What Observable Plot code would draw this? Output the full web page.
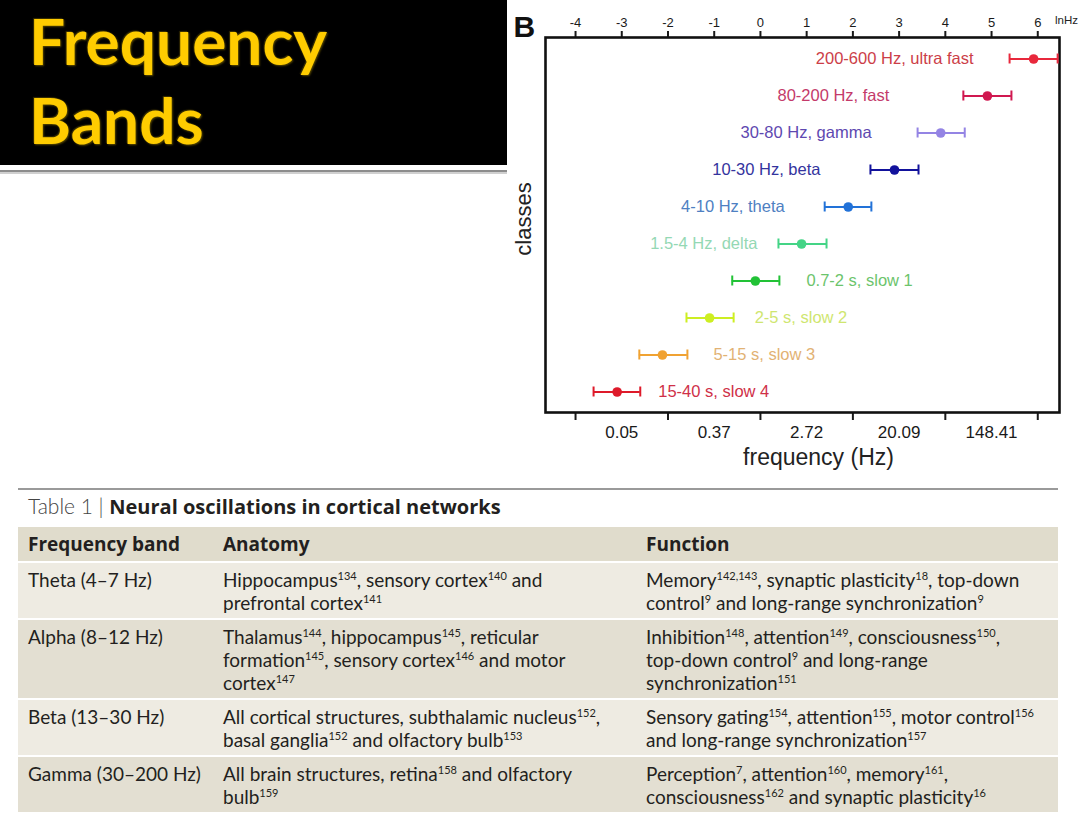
<!DOCTYPE html>
<html><head><meta charset="utf-8">
<script src="https://cdn.jsdelivr.net/npm/d3@7"></script>
<script src="https://cdn.jsdelivr.net/npm/@observablehq/plot@0.6"></script>
<style>
body{margin:0;width:1080px;height:823px;position:relative;background:#fff;overflow:hidden;font-family:Lato,"Open Sans",sans-serif;color:#231f20;}
#title{position:absolute;left:0;top:0;width:507px;height:165px;background:#000;}
#title .t{position:absolute;left:29px;color:#ffcc00;font-weight:bold;font-size:64px;font-family:Lato,"Open Sans",sans-serif;line-height:1;text-shadow:1px 1px 2px #5a4a00,-1px -1px 1px #3a3000;}
#rule1{position:absolute;left:0;top:170px;width:507px;height:2px;background:#8c8c8c;}
#rule2{position:absolute;left:0;top:172px;width:507px;height:2px;background:#d0d0d0;}
#chart{position:absolute;left:505px;top:0;}
#tline{position:absolute;left:18px;top:488px;width:1040px;height:1.5px;background:#9a9a9a;}
#caption{position:absolute;left:28px;top:493px;line-height:26px;white-space:nowrap;}
#caption .l{font-weight:300;color:#444;font-size:21px;}
#caption b{font-weight:bold;font-family:"Open Sans",sans-serif;font-size:20px;}
table{position:absolute;left:18px;top:525px;width:1040px;border-collapse:separate;border-spacing:0 2px;font-size:19px;}
td,th{text-align:left;vertical-align:top;padding:5px 8px 4px 10px;line-height:23px;white-space:nowrap;}
th{font-weight:bold;font-family:"Open Sans",sans-serif;padding:6px 8px 5px 10px;background:#e0dccc;font-size:19px;}
tr.a td{background:#eeebe2;}
tr.b td{background:#e3dfd2;}
sup{font-size:11px;vertical-align:7px;line-height:0;}
</style></head>
<body>
<div id="title"><div class="t" style="top:9px">Frequency</div><div class="t" style="top:88px">Bands</div></div>
<div id="rule1"></div><div id="rule2"></div>
<div id="chart"></div>
<div id="tline"></div>
<div id="caption"><span class="l">Table 1 | </span><b>Neural oscillations in cortical networks</b></div>
<table>
<colgroup><col style="width:195px"><col style="width:423px"><col style="width:422px"></colgroup>
<tr><th>Frequency band</th><th>Anatomy</th><th>Function</th></tr>
<tr class="a"><td>Theta (4–7 Hz)</td><td>Hippocampus<sup>134</sup>, sensory cortex<sup>140</sup> and<br>prefrontal cortex<sup>141</sup></td><td>Memory<sup>142,143</sup>, synaptic plasticity<sup>18</sup>, top-down<br>control<sup>9</sup> and long-range synchronization<sup>9</sup></td></tr>
<tr class="b"><td>Alpha (8–12 Hz)</td><td>Thalamus<sup>144</sup>, hippocampus<sup>145</sup>, reticular<br>formation<sup>145</sup>, sensory cortex<sup>146</sup> and motor<br>cortex<sup>147</sup></td><td>Inhibition<sup>148</sup>, attention<sup>149</sup>, consciousness<sup>150</sup>,<br>top-down control<sup>9</sup> and long-range<br>synchronization<sup>151</sup></td></tr>
<tr class="a"><td>Beta (13–30 Hz)</td><td>All cortical structures, subthalamic nucleus<sup>152</sup>,<br>basal ganglia<sup>152</sup> and olfactory bulb<sup>153</sup></td><td>Sensory gating<sup>154</sup>, attention<sup>155</sup>, motor control<sup>156</sup><br>and long-range synchronization<sup>157</sup></td></tr>
<tr class="b"><td>Gamma (30–200 Hz)</td><td>All brain structures, retina<sup>158</sup> and olfactory<br>bulb<sup>159</sup></td><td>Perception<sup>7</sup>, attention<sup>160</sup>, memory<sup>161</sup>,<br>consciousness<sup>162</sup> and synaptic plasticity<sup>16</sup></td></tr>
</table>
<script>
// ---- data ----
const classes = ["200-600 Hz, ultra fast","80-200 Hz, fast","30-80 Hz, gamma","10-30 Hz, beta","4-10 Hz, theta","1.5-4 Hz, delta","0.7-2 s, slow 1","2-5 s, slow 2","5-15 s, slow 3","15-40 s, slow 4"];
const lnMid = [5.91, 4.91, 3.90, 2.90, 1.90, 0.89, -0.11, -1.10, -2.12, -3.10];
const lnLo  = [5.39, 4.39, 3.40, 2.38, 1.39, 0.39, -0.61, -1.60, -2.62, -3.61];
const lnHi  = [6.43, 5.43, 4.42, 3.42, 2.40, 1.43, 0.41, -0.58, -1.58, -2.60];
const topTicks = [-4,-3,-2,-1,0,1,2,3,4,5,6];
const topLabels = ["-4","-3","-2","-1","0","1","2","3","4","5","6"];
const bottomTicks = [-4,-2,0,2,4,6];
const bottomLabelTicks = [-3,-1,1,3,5];
const bottomLabels = ["0.05","0.37","2.72","20.09","148.41"];

// ---- styles ----
const barColors = ["#e8283c","#d01850","#9484e4","#12129c","#2272d8","#44d486","#22c236","#cdee22","#f0a232","#de1a2a"];
const labelColors = ["#cc3e48","#c43a6a","#5e48b0","#34349e","#4e80c2","#94d8b4","#6cc46c","#cfe670","#e2b274","#cf3048"];
const labelLeft = [true,true,true,true,true,true,false,false,false,false];
const labelDx = [-36,-74,-46,-50,-40,-21,27,21,26,18];

const rows = classes.map((c,i)=>({c, i, mid:lnMid[i], lo:lnLo[i], hi:lnHi[i], bar:barColors[i], lab:labelColors[i]}));

const chart = Plot.plot({
  width: 575, height: 475,
  marginLeft: 40, marginRight: 21, marginTop: 37, marginBottom: 63,
  style: {fontFamily: "'Liberation Sans', Arial, sans-serif", fontSize: "13px", background: "transparent", color: "#1a1a1a", overflow: "visible"},
  x: {domain: [-4.65, 6.47], axis: null},
  y: {type: "band", domain: classes, padding: 0, axis: null},
  color: {type: "identity"},
  marks: [
    Plot.axisX(topTicks, {anchor: "top", tickSize: 7, tickPadding: 4, strokeWidth: 2, fontSize: 13, tickFormat: d => topLabels[topTicks.indexOf(d)], label: null}),
    Plot.axisX(bottomTicks, {anchor: "bottom", tickSize: 8, strokeWidth: 2, tickFormat: () => "", label: null}),
    Plot.axisX(bottomLabelTicks, {anchor: "bottom", tickSize: 0, tickPadding: 13, fontSize: 17, tickFormat: d => bottomLabels[bottomLabelTicks.indexOf(d)], label: null}),
    Plot.frame({stroke: "#111", strokeWidth: 2.6}),
    Plot.ruleY(rows, {y: "c", x1: "lo", x2: "hi", stroke: "bar", strokeWidth: 2}),
    Plot.tickX(rows, {x: "lo", y: "c", stroke: "bar", strokeWidth: 2, insetTop: 13.5, insetBottom: 13.5}),
    Plot.tickX(rows, {x: "hi", y: "c", stroke: "bar", strokeWidth: 2, insetTop: 13.5, insetBottom: 13.5}),
    Plot.dot(rows, {x: "mid", y: "c", r: 4.8, fill: "bar"}),
    ...rows.map(r => Plot.text([r], {x: labelLeft[r.i] ? "lo" : "hi", y: "c", text: "c", fill: "lab", textAnchor: labelLeft[r.i] ? "end" : "start", dx: labelDx[r.i], fontSize: 16.5})),
    Plot.text(["classes"], {frameAnchor: "left", text: d => d, textAnchor: "middle", lineAnchor: "middle", rotate: -90, dx: -22, dy: -6, fontSize: 22, fill: "#222"}),
    Plot.text(["frequency (Hz)"], {frameAnchor: "bottom", text: d => d, textAnchor: "middle", lineAnchor: "middle", dx: 16, dy: 45, fontSize: 23, fill: "#222"}),
    Plot.text(["lnHz"], {frameAnchor: "top-right", text: d => d, textAnchor: "middle", lineAnchor: "middle", dx: 7, dy: -17, fontSize: 11.5, fill: "#222"}),
    Plot.text(["B"], {frameAnchor: "top-left", text: d => d, textAnchor: "start", lineAnchor: "top", dx: -32, dy: -22, fontSize: 30, fontWeight: "bold", fill: "#111"})
  ]
});
document.getElementById("chart").appendChild(chart);
</script>
</body></html>
